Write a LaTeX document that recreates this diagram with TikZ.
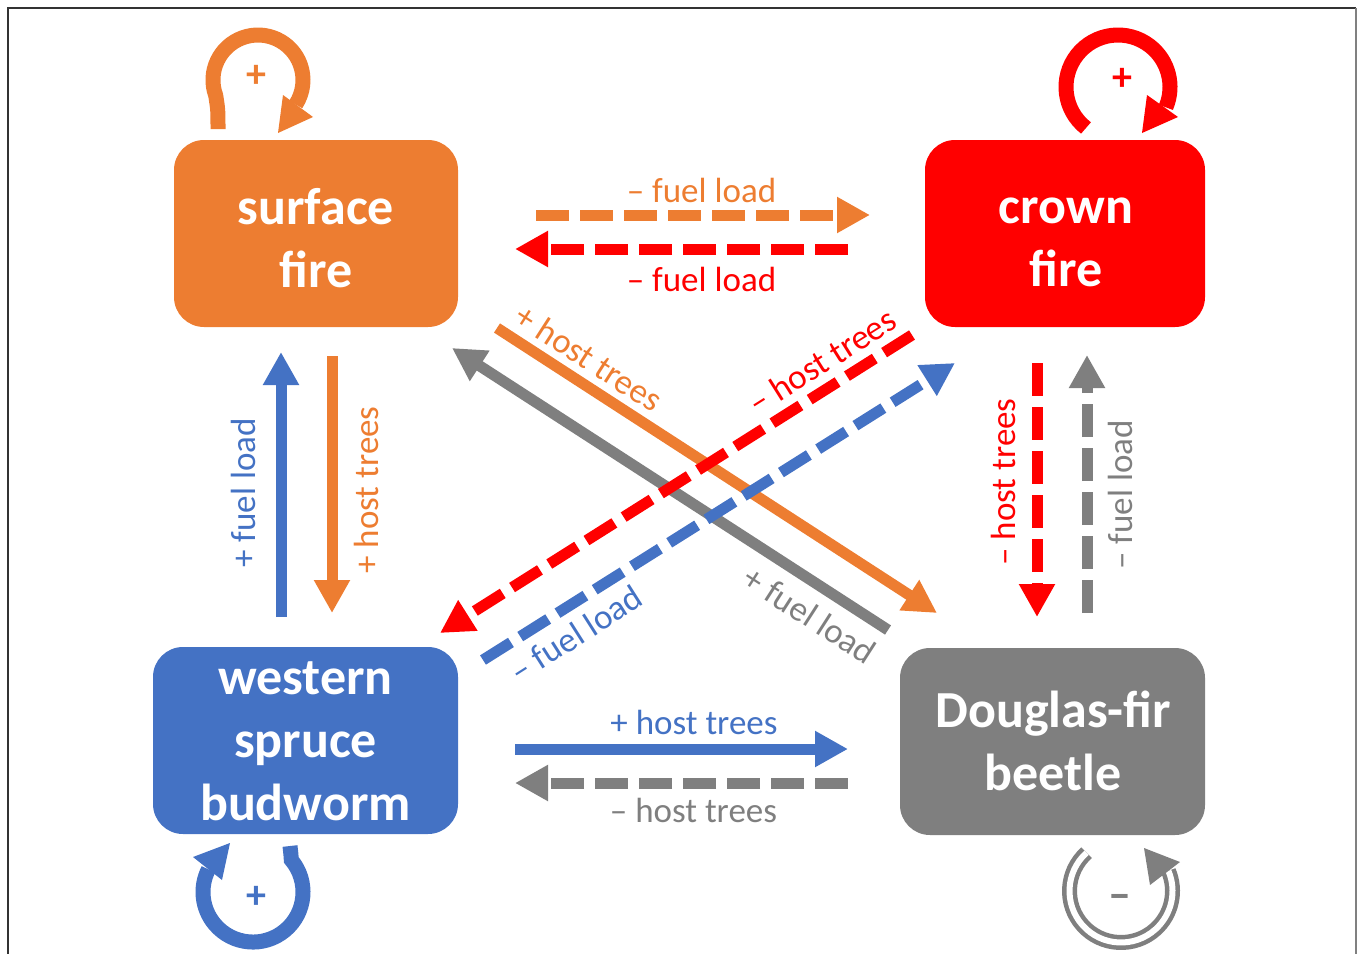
\documentclass[tikz,border=0pt]{standalone}
\usepackage{fontspec}
\setmainfont{Carlito}
\usetikzlibrary{arrows.meta}
\definecolor{cor}{HTML}{ED7D31}
\definecolor{cre}{HTML}{FF0000}
\definecolor{cbl}{HTML}{4472C4}
\definecolor{cgr}{HTML}{7F7F7F}
\begin{document}
\begin{tikzpicture}[x=1pt,y=-1pt,
  box/.style={rounded corners=30pt, minimum width=#1, minimum height=187pt, inner sep=0pt, draw=none},
  btxt/.style={text=white, font=\fontsize{52}{63}\selectfont\bfseries, align=center, inner sep=0pt},
  lbl/.style={font=\fontsize{35}{42}\selectfont, inner sep=0pt},
  sgn/.style={font=\fontsize{40}{48}\selectfont\bfseries, inner sep=0pt},
  arr/.style={line width=11pt, -{Triangle[length=33pt,width=34pt]}},
  dsh/.style={dash pattern=on 33pt off 11pt},
  loop/.style={line width=15pt},
]
\useasboundingbox (0,0) rectangle (1357,953);
% frame
\draw[line width=2pt, black!80] (8,970) -- (8,8) -- (1356,8);
\draw[line width=2.5pt, black!50] (1356,8) -- (1356,970);

% boxes
\node[box=284pt, fill=cor] (sf) at (316,233.5) {};
\node[btxt] (sft) at (316,238) {surface\\fire};
\node[box=280pt, fill=cre] (cf) at (1065,233.5) {};
\node[btxt] (cft) at (1066,242) {crown\\fire};
\node[box=305pt, fill=cbl] (wsb) at (305.5,740.5) {};
\node[btxt] (wsbt) at (305.5,741) {western\\spruce\\budworm};
\node[box=305pt, fill=cgr] (dfb) at (1052.5,741.5) {};
\node[btxt] (dfbt) at (1053,741) {Douglas-fir\\beetle};

% horizontal top
\draw[arr, dsh, cor] (536,215) -- (870,215);
\draw[arr, dsh, cre] (848,249) -- (515,249);
\node[lbl, text=cor] (l1) at (701.5,190) {– fuel load};
\node[lbl, text=cre] (l2) at (701.5,279) {– fuel load};

% horizontal bottom
\draw[arr, cbl] (515,749) -- (848,749);
\draw[arr, dsh, cgr] (848,783) -- (515,783);
\node[lbl, text=cbl] (l3) at (694,722) {+ host trees};
\node[lbl, text=cgr] (l4) at (693.5,810) {– host trees};

% vertical left
\draw[arr, cbl] (281,617) -- (281,352);
\draw[arr, cor] (332,356) -- (332,613);
\node[lbl, text=cbl, rotate=90] (l5) at (243,493) {+ fuel load};
\node[lbl, text=cor, rotate=90] (l6) at (366,490) {+ host trees};

% vertical right
\draw[arr, dsh, cre] (1037,363) -- (1037,617);
\draw[arr, dsh, cgr] (1087,613) -- (1087,355);
\node[lbl, text=cre, rotate=90] (l7) at (1003,482) {– host trees};
\node[lbl, text=cgr, rotate=90] (l8) at (1120,495) {– fuel load};

% diagonals
\draw[arr, cor] (497,328) -- (937,613);
\draw[arr, cgr] (888,630) -- (452,348);
\draw[arr, dsh, cre] (912,335) -- (440,633);
\draw[arr, dsh, cbl] (483,660) -- (955,363);
\node[lbl, text=cor, rotate=-32.8] (l9) at (589,358) {+ host trees};
\node[lbl, text=cre, rotate=32.2] (l10) at (822,361) {– host trees};
\node[lbl, text=cbl, rotate=32.5] (l11) at (576,634) {– fuel load};
\node[lbl, text=cgr, rotate=-32.8] (l12) at (810,615) {+ fuel load};

% self loops
% surface fire
\draw[loop, cor] (218,129) .. controls (218,110) .. (215.7,95.4) arc[start angle=160, end angle=393, radius=45];
\fill[cor] (283,95) -- (313,117) -- (278,133) -- cycle;
\node[sgn, text=cor] (s1) at (256,76) {+};
% crown fire
\draw[loop, cre] (1118,87) ++(128:52) arc[start angle=128, end angle=383, radius=52];
\fill[cre] (1147,95) -- (1178,117) -- (1142,133) -- cycle;
\node[sgn, text=cre] (s2) at (1122,79) {+};
% budworm
\draw[loop, cbl] (290,846) .. controls (291,855) .. (291.3,859.9) arc[start angle=-40, end angle=207, radius=50];
\fill[cbl] (193,857) -- (222,880) -- (230,843) -- cycle;
\node[sgn, text=cbl] (s3) at (256,897) {+};
% Douglas-fir beetle
\draw[cgr, line width=4.5pt, double=white, double distance=6pt] (1121,891) ++(228:51.5) arc[start angle=228, end angle=-23, radius=51.5];
\fill[cgr] (1144,848) -- (1180,862) -- (1150,885) -- cycle;
\node[sgn, text=cgr, font=\fontsize{46}{50}\selectfont\bfseries] (s4) at (1120,902) {–};
\end{tikzpicture}
\end{document}
